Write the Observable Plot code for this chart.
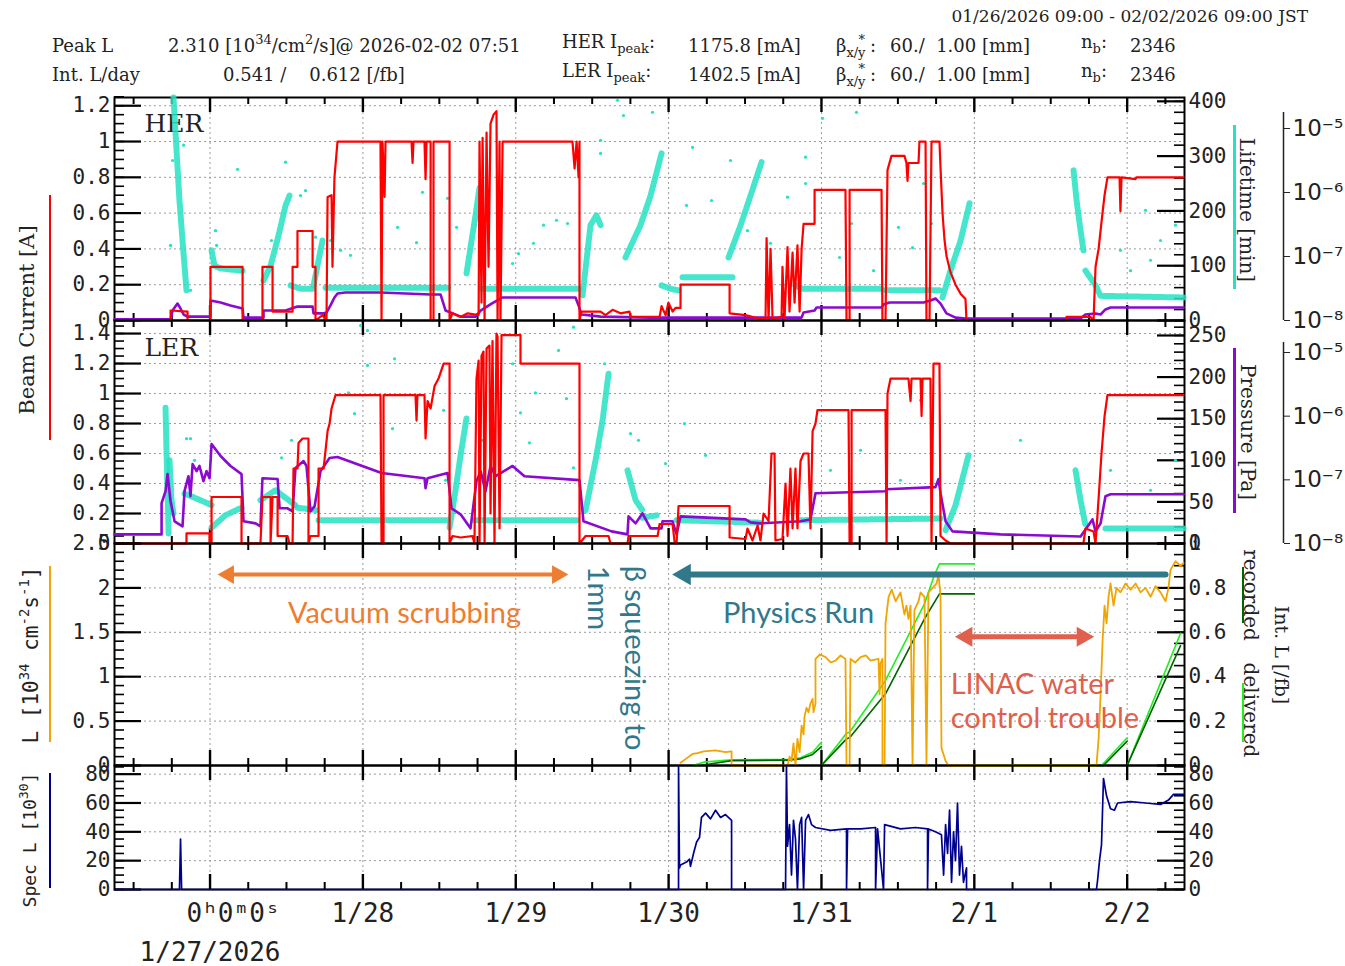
<!DOCTYPE html>
<html><head><meta charset="utf-8">
<script src="https://cdn.jsdelivr.net/npm/d3@7"></script>
<script src="https://cdn.jsdelivr.net/npm/@observablehq/plot@0.6"></script>
<style>
body{margin:0;background:#fff;}
#chart{position:relative;width:1345px;height:966px;overflow:hidden;background:#fff;}
#chart svg{position:absolute;left:0;top:0;background:transparent !important;}
.hd{position:absolute;white-space:pre;font-family:"DejaVu Serif",serif;font-size:18px;color:#222;line-height:18px;}
.sb{font-size:13px;position:relative;top:5px;}
.sp{font-size:13px;position:relative;top:-8px;}
.rot{position:absolute;white-space:pre;color:#222;line-height:1;}
.bar{position:absolute;}
</style></head><body><div id="chart"></div>
<script>
// ---------------- DATA (time = days since 1/27/2026 00:00 JST) ----------------
const dayTicks = [0, 1, 2, 3, 4, 5, 6];
const dayLabels = ["\u00a0\u00a0\u00a00ʰ0ᵐ0ˢ\n1/27/2026", "1/28", "1/29", "1/30", "1/31", "2/1", "2/2"];
const minorDays = [-0.5,-0.25,0.25,0.5,0.75,1.25,1.5,1.75,2.25,2.5,2.75,3.25,3.5,3.75,4.25,4.5,4.75,5.25,5.5,5.75,6.25];
const herTicks = [0, 0.2, 0.4, 0.6, 0.8, 1, 1.2];
const lerTicks = [0, 0.2, 0.4, 0.6, 0.8, 1, 1.2, 1.4];
const lumTicks = [0, 0.5, 1, 1.5, 2, 2.5];
const specTicks = [0, 20, 40, 60, 80];
const herLifeTicks = [0, 100, 200, 300, 400];
const lerLifeTicks = [0, 50, 100, 150, 200, 250];
const intLTicks = [0, 0.2, 0.4, 0.6, 0.8, 1];
const pressureTicks = [1e-8, 1e-7, 1e-6, 1e-5];

// HER beam current [A]
const herCurrent = [[-0.625,0],[-0.258,0],[-0.258,0.056],[-0.147,0.05],[-0.147,0],[0.003,0],[0.003,0.30],[0.213,0.30],[0.213,0],[0.343,0],[0.343,0.30],[0.409,0.30],[0.409,0.05],[0.540,0.05],[0.540,0.30],[0.572,0.30],[0.572,0.50],[0.671,0.50],[0.671,0.30],[0.690,0.30],[0.690,0],[0.736,0.03],[0.762,0],[0.769,0.69],[0.795,0.70],[0.801,0.3],[0.814,0.8],[0.834,1.0],[1.115,1.0],[1.122,0],[1.128,1.0],[1.142,0.69],[1.148,1.0],[1.318,1.0],[1.325,0.88],[1.331,1.0],[1.403,1.0],[1.410,0.79],[1.416,1.0],[1.443,1.0],[1.443,0],[1.462,0],[1.462,1.0],[1.567,1.0],[1.567,0],[1.586,0.04],[1.639,0.02],[1.685,0.04],[1.757,0.03],[1.763,1.0],[1.776,0.1],[1.783,1.02],[1.796,0],[1.809,1.05],[1.822,0.3],[1.835,1.1],[1.855,1.15],[1.874,1.17],[1.881,0],[1.894,1.0],[1.900,0],[1.914,1.0],[2.371,1.0],[2.385,0.85],[2.398,1.0],[2.411,0.8],[2.417,1.0],[2.417,0],[2.430,0.05],[2.555,0.05],[2.587,0.03],[2.633,0.06],[2.686,0.04],[2.744,0.05],[2.751,0.02],[2.941,0.02],[2.954,0.08],[2.980,0.03],[2.999,0.1],[3.026,0.05],[3.045,0.07],[3.078,0.07],[3.078,0.2],[3.399,0.2],[3.399,0.04],[3.503,0.03],[3.595,0.01],[3.634,0.01],[3.641,0.46],[3.654,0],[3.667,0.4],[3.680,0.01],[3.739,0.02],[3.745,0.3],[3.758,0],[3.778,0.41],[3.791,0.05],[3.811,0.38],[3.824,0.1],[3.843,0.42],[3.857,0.05],[3.870,0.4],[3.883,0.54],[3.955,0.54],[3.955,0.73],[4.157,0.73],[4.164,0],[4.184,0],[4.184,0.73],[4.393,0.73],[4.399,0],[4.419,0],[4.432,0.84],[4.458,0.92],[4.543,0.92],[4.556,0.88],[4.563,0.78],[4.569,0.88],[4.635,0.88],[4.641,1.0],[4.681,1.0],[4.687,0],[4.707,0],[4.720,1.0],[4.772,1.0],[4.779,0.85],[4.792,0.6],[4.805,0.45],[4.818,0.36],[4.844,0.27],[4.877,0.2],[4.910,0.15],[4.942,0.12],[4.949,0],[5.597,0],[5.603,0.02],[5.760,0.02],[5.780,0],[5.793,0.3],[5.813,0.4],[5.832,0.55],[5.852,0.7],[5.871,0.8],[5.950,0.8],[5.956,0.61],[5.963,0.8],[6.055,0.79],[6.061,0.8],[6.369,0.8]];

// LER beam current [A]
const lerCurrent = [[-0.625,0],[-0.154,0],[-0.154,0.067],[-0.003,0.067],[-0.003,0],[0.010,0],[0.010,0.31],[0.206,0.31],[0.206,0],[0.330,0],[0.343,0.31],[0.396,0.31],[0.396,0],[0.409,0.31],[0.442,0.31],[0.442,0.05],[0.507,0.05],[0.520,0],[0.540,0],[0.546,0.5],[0.572,0.5],[0.579,0.67],[0.605,0.70],[0.644,0.70],[0.644,0],[0.657,0.05],[0.710,0.05],[0.710,0.5],[0.743,0.5],[0.769,0.75],[0.782,0.8],[0.795,0.9],[0.821,0.99],[1.115,0.99],[1.122,0],[1.135,0],[1.135,0.99],[1.344,0.99],[1.351,0.82],[1.357,0.99],[1.403,0.99],[1.410,0.70],[1.423,0.95],[1.443,0.9],[1.469,1.05],[1.495,1.1],[1.528,1.2],[1.567,1.2],[1.567,0],[1.586,0.05],[1.639,0.04],[1.717,0.05],[1.730,0],[1.743,1.1],[1.757,1.22],[1.763,0],[1.776,1.25],[1.789,1.28],[1.796,0],[1.809,1.3],[1.828,1.32],[1.835,0.2],[1.848,1.35],[1.861,0],[1.874,1.4],[1.881,1.38],[1.894,0.1],[1.907,1.39],[2.031,1.39],[2.031,1.2],[2.417,1.2],[2.417,0],[2.457,0.05],[2.607,0.05],[2.620,0],[2.731,0],[2.738,0.05],[2.928,0.05],[2.941,0.13],[3.026,0.13],[3.039,0.01],[3.052,0],[3.065,0.25],[3.399,0.25],[3.399,0.04],[3.503,0.03],[3.516,0.1],[3.549,0.02],[3.582,0.12],[3.601,0.02],[3.621,0.2],[3.654,0.15],[3.673,0.6],[3.693,0.6],[3.699,0.02],[3.745,0.03],[3.765,0.4],[3.778,0.05],[3.797,0.5],[3.811,0.1],[3.830,0.5],[3.843,0.1],[3.863,0.55],[3.883,0.6],[3.915,0.6],[3.928,0.1],[3.942,0.75],[3.961,0.8],[3.974,0.89],[4.177,0.89],[4.184,0],[4.197,0],[4.197,0.89],[4.419,0.89],[4.426,0],[4.432,1.0],[4.452,1.1],[4.569,1.1],[4.583,0.95],[4.589,1.1],[4.648,1.1],[4.655,0.85],[4.661,1.1],[4.713,1.1],[4.720,0],[4.733,1.2],[4.772,1.2],[4.779,0.05],[4.812,0.02],[4.844,0],[5.714,0],[5.727,0.1],[5.780,0.08],[5.793,0],[5.813,0.3],[5.832,0.6],[5.852,0.85],[5.871,0.99],[6.369,0.99]];

// HER pressure [Pa]
const herPressure = [[-0.625,1.04e-8],[-0.258,1.04e-8],[-0.245,1.43e-8],[-0.213,1.84e-8],[-0.193,1.54e-8],[-0.173,1.24e-8],[-0.147,1.15e-8],[0.003,1.15e-8],[0.003,2.05e-8],[0.069,1.91e-8],[0.134,1.72e-8],[0.213,1.54e-8],[0.219,1.11e-8],[0.350,1.11e-8],[0.350,1.43e-8],[0.494,1.43e-8],[0.572,1.65e-8],[0.671,1.65e-8],[0.677,1.29e-8],[0.736,1.29e-8],[0.762,1.33e-8],[0.788,1.72e-8],[0.814,2.29e-8],[0.834,2.64e-8],[0.886,2.74e-8],[1.115,2.74e-8],[1.443,2.55e-8],[1.462,2.55e-8],[1.508,2.55e-8],[1.541,1.43e-8],[1.639,1.15e-8],[1.737,1.15e-8],[1.770,1.43e-8],[1.842,1.84e-8],[1.914,2.29e-8],[2.391,2.29e-8],[2.411,1.72e-8],[2.430,1.24e-8],[2.555,1.15e-8],[2.882,1.11e-8],[3.870,1.11e-8],[3.883,1.33e-8],[3.955,1.43e-8],[3.968,1.60e-8],[4.393,1.60e-8],[4.406,1.78e-8],[4.445,1.91e-8],[4.668,1.91e-8],[4.713,2.05e-8],[4.746,2.21e-8],[4.779,1.84e-8],[4.818,1.29e-8],[4.877,1.11e-8],[4.942,1.07e-8],[5.695,1.07e-8],[5.727,1.24e-8],[5.793,1.29e-8],[5.826,1.24e-8],[5.858,1.49e-8],[5.891,1.60e-8],[6.369,1.60e-8]];

// LER pressure [Pa]
const lerPressure = [[-0.625,1.39e-8],[-0.317,1.39e-8],[-0.317,4.29e-8],[-0.291,6.63e-8],[-0.278,1.23e-7],[-0.258,4.61e-8],[-0.232,2.23e-8],[-0.180,1.86e-8],[-0.167,6.63e-8],[-0.141,1.14e-7],[-0.128,5.53e-8],[-0.114,1.77e-7],[-0.088,1.37e-7],[-0.069,1.65e-7],[-0.043,9.53e-8],[-0.023,1.37e-7],[-0.003,1.06e-7],[0.010,3.66e-7],[0.069,2.37e-7],[0.134,1.65e-7],[0.206,1.23e-7],[0.219,2.23e-8],[0.298,2.07e-8],[0.330,1.86e-8],[0.343,1.06e-7],[0.442,1.03e-7],[0.455,3.57e-8],[0.507,3.57e-8],[0.540,3.20e-8],[0.559,1.53e-7],[0.612,1.97e-7],[0.631,1.65e-7],[0.657,3.20e-8],[0.684,3.84e-8],[0.723,1.37e-7],[0.782,2.20e-7],[0.834,2.28e-7],[1.122,1.28e-7],[1.403,1.06e-7],[1.410,7.39e-8],[1.423,1.06e-7],[1.554,1.28e-7],[1.580,3.57e-8],[1.639,2.87e-8],[1.704,1.73e-8],[1.743,9.53e-8],[1.770,1.37e-7],[1.802,6.63e-8],[1.835,1.65e-7],[1.868,1.14e-7],[1.979,1.65e-7],[2.057,1.14e-7],[2.417,9.89e-8],[2.443,2.23e-8],[2.627,1.55e-8],[2.731,1.39e-8],[2.738,2.67e-8],[2.784,2.07e-8],[2.829,2.98e-8],[2.882,1.73e-8],[2.954,1.73e-8],[2.960,2.23e-8],[3.026,2.23e-8],[3.052,1.39e-8],[3.078,2.67e-8],[3.503,2.39e-8],[3.536,2.15e-8],[3.601,2.07e-8],[3.863,2.23e-8],[3.928,2.39e-8],[3.961,6.17e-8],[4.419,6.63e-8],[4.426,7.13e-8],[4.746,7.67e-8],[4.766,1.03e-7],[4.779,6.17e-8],[4.812,2.23e-8],[4.857,1.55e-8],[5.171,1.39e-8],[5.695,1.29e-8],[5.727,1.66e-8],[5.773,2.39e-8],[5.793,1.55e-8],[5.826,2.07e-8],[5.858,5.53e-8],[5.891,5.94e-8],[6.369,5.94e-8]];

// HER lifetime [min]: dense streaks [t, min, streak id] and isolated points [t, min]
const herLifeStreaks = [[-0.239,407,1],[-0.219,310,1],[-0.200,219,1],[-0.180,146,1],[-0.167,100,1],[-0.154,55,1],[0.010,128,2],[0.029,100,2],[0.069,95,2],[0.213,91,2],[0.350,73,3],[0.396,100,3],[0.448,155,3],[0.494,210,3],[0.520,228,3],[0.527,64,4],[0.592,58,4],[0.671,58,4],[0.677,64,5],[0.710,110,5],[0.736,146,5],[0.756,60,6],[0.886,60,6],[1.115,60,6],[1.567,60,6],[1.678,86,7],[1.711,146,7],[1.737,192,7],[1.763,243,7],[1.776,58,8],[2.417,58,8],[2.437,46,9],[2.463,110,9],[2.489,174,9],[2.528,192,9],[2.555,174,9],[2.718,115,10],[2.816,174,10],[2.882,228,10],[2.954,305,10],[2.954,64,11],[3.013,58,11],[3.065,55,11],[3.091,79,12],[3.418,79,12],[3.392,115,13],[3.471,174,13],[3.536,228,13],[3.608,289,13],[3.830,64,14],[3.870,58,14],[4.393,58,14],[4.419,55,15],[4.772,55,15],[4.792,42,16],[4.844,91,16],[4.910,146,16],[4.969,214,16],[5.649,274,17],[5.669,219,17],[5.695,164,17],[5.714,128,17],[5.727,91,18],[5.793,64,18],[5.826,45,18],[6.369,42,18]];
const herLifePoints = [[-0.245,292],[-0.258,137],[-0.173,320],[-0.128,55],[0.036,164],[0.043,137],[0.180,276],[0.402,146],[0.494,289],[0.592,228],[0.625,237],[0.690,152],[0.788,146],[0.854,128],[0.919,119],[1.227,170],[1.351,142],[1.390,234],[1.554,223],[1.613,170],[1.979,104],[2.018,122],[2.116,141],[2.182,174],[2.267,183],[2.339,177],[2.555,329],[2.555,305],[2.666,402],[2.705,374],[2.895,380],[3.157,316],[3.117,210],[3.281,219],[3.405,292],[3.896,298],[4.007,369],[4.229,380],[3.896,250],[3.778,225],[4.197,177],[4.504,170],[4.668,250],[4.720,177],[3.667,141],[3.516,164],[4.118,115],[4.341,91],[4.596,133],[6.120,201],[6.218,146],[6.316,174],[5.956,128],[6.153,110],[6.022,91]];

// LER lifetime [min]
const lerLifeStreaks = [[-0.291,163,1],[-0.285,112,1],[-0.278,64,1],[-0.271,12,1],[-0.265,100,2],[-0.252,52,2],[-0.239,36,2],[-0.167,60,3],[-0.062,52,3],[0.010,46,3],[0.010,19,4],[0.101,34,4],[0.206,43,4],[0.330,52,5],[0.428,64,5],[0.559,46,5],[0.572,43,6],[0.697,40,6],[0.710,28,7],[1.554,28,7],[1.567,19,8],[1.606,64,8],[1.639,106,8],[1.678,151,8],[1.730,28,9],[2.404,28,9],[2.457,40,10],[2.522,100,10],[2.568,148,10],[2.607,204,10],[2.731,88,11],[2.784,52,11],[2.829,40,11],[2.829,31,12],[2.928,34,12],[3.052,28,13],[3.601,25,13],[3.863,28,14],[4.779,30,14],[4.812,16,15],[4.877,46,15],[4.962,106,15],[5.662,88,16],[5.695,52,16],[5.727,22,16],[5.858,18,17],[6.369,18,17]];
const lerLifePoints = [[-0.154,126],[-0.128,126],[-0.101,100],[0.468,103],[0.533,124],[0.906,181],[0.945,156],[1.030,214],[1.207,222],[1.194,138],[1.528,160],[1.541,76],[1.783,124],[1.979,216],[2.031,157],[2.090,121],[2.129,181],[2.280,232],[2.332,174],[2.378,260],[2.378,91],[2.581,216],[2.751,132],[2.803,124],[2.980,96],[3.104,144],[0.985,262],[1.030,256],[3.242,106],[4.059,88],[4.256,112],[4.517,76],[4.648,172],[5.302,124],[5.891,88],[6.153,64],[6.316,100]];

// Luminosity [1e34 cm^-2 s^-1]
const luminosity = [[3.078,0.03],[3.117,0.08],[3.157,0.13],[3.189,0.14],[3.229,0.16],[3.307,0.17],[3.372,0.15],[3.412,0.16],[3.412,0],[3.778,0],[3.791,0.1],[3.804,0.05],[3.817,0.25],[3.830,0],[3.843,0.3],[3.857,0.15],[3.870,0.45],[3.883,0.35],[3.889,0.55],[3.902,0.65],[3.915,0.6],[3.928,0.7],[3.942,0.75],[3.948,0.6],[3.961,0.7],[3.961,1.2],[3.990,1.25],[4.027,1.22],[4.060,1.16],[4.092,1.18],[4.125,1.24],[4.157,1.2],[4.164,0],[4.184,0],[4.190,1.2],[4.220,1.16],[4.256,1.22],[4.290,1.24],[4.321,1.18],[4.373,1.2],[4.380,0.8],[4.386,1.15],[4.399,1.2],[4.399,0],[4.413,0],[4.419,1.6],[4.439,1.9],[4.460,1.98],[4.485,1.85],[4.517,1.95],[4.543,1.7],[4.556,1.8],[4.569,1.65],[4.583,1.8],[4.596,0],[4.608,1.75],[4.635,1.85],[4.648,1.95],[4.674,1.9],[4.687,0],[4.700,1.95],[4.727,2.0],[4.753,2.05],[4.766,2.15],[4.779,1.9],[4.785,0.2],[4.812,0.05],[4.831,0],[5.799,0],[5.813,0.3],[5.826,0.8],[5.839,1.4],[5.852,1.8],[5.865,1.6],[5.878,1.9],[5.891,2.05],[5.911,1.8],[5.930,2.0],[5.956,1.95],[5.989,2.05],[6.022,1.98],[6.055,2.05],[6.087,1.95],[6.120,2.0],[6.153,1.9],[6.185,2.02],[6.218,1.95],[6.251,1.85],[6.270,2.0],[6.283,2.2],[6.316,2.3],[6.349,2.25],[6.369,2.28]];

// Integrated luminosity per day [/fb]: [t, value, day]
const deliveredIntL = [[3.157,0,1],[3.229,0.015,1],[3.412,0.026,1],[3.778,0.027,1],[3.863,0.035,1],[3.942,0.06,1],[4.0,0.105,1],[4.0,0,2],[4.164,0.145,2],[4.184,0.15,2],[4.419,0.383,2],[4.674,0.728,2],[4.740,0.86,2],[4.772,0.908,2],[5.0,0.908,2],[5.0,0,3],[5.832,0,3],[6.0,0.125,3],[6.0,0,4],[6.349,0.595,4]];
const recordedIntL = [[3.209,0,1],[3.412,0.022,1],[3.778,0.024,1],[3.863,0.03,1],[3.942,0.05,1],[4.0,0.085,1],[4.0,0,2],[4.164,0.12,2],[4.184,0.125,2],[4.419,0.323,2],[4.674,0.661,2],[4.772,0.773,2],[5.0,0.773,2],[5.0,0,3],[5.845,0,3],[6.0,0.11,3],[6.0,0,4],[6.349,0.54,4]];

// Specific luminosity [1e30]
const specLum = [[-0.625,0],[-0.200,0],[-0.193,35],[-0.186,0],[3.065,0],[3.065,85.7],[3.071,15],[3.078,17],[3.117,19],[3.137,21],[3.143,16],[3.163,25],[3.183,33],[3.202,36],[3.215,50],[3.242,53],[3.274,49],[3.307,55],[3.340,50],[3.372,52],[3.412,48],[3.412,0],[3.765,0],[3.771,85.7],[3.778,30],[3.791,45],[3.804,10],[3.817,48],[3.830,35],[3.843,0],[3.857,45],[3.870,50],[3.883,0],[3.896,48],[3.915,52],[3.935,45],[3.961,43],[4.059,41],[4.164,42],[4.164,0],[4.171,42],[4.256,42],[4.354,43],[4.354,0],[4.367,42],[4.406,0],[4.413,45],[4.517,42],[4.615,43],[4.694,42],[4.694,0],[4.700,42],[4.746,40],[4.785,38],[4.799,10],[4.812,45],[4.825,25],[4.838,55],[4.851,5],[4.864,40],[4.877,20],[4.890,60],[4.903,10],[4.916,30],[4.929,5],[4.949,15],[4.949,0],[5.799,0],[5.806,6],[5.819,20],[5.832,31],[5.845,77],[5.865,65],[5.891,56],[5.917,55],[5.937,60],[6.022,61],[6.120,60],[6.218,59],[6.270,62],[6.303,66],[6.369,66]];

// Annotations (time span, luminosity level)
const scrubbingSpan = [{t1: 0.049, t2: 2.345, lum: 2.15}];
const physicsSpan = [{t1: 3.026, t2: 6.251, lum: 2.15}];
const linacSpan = [{t1: 4.877, t2: 5.780, lum: 1.45}];
const annotationLabels = [
  {t: 1.272, lum: 1.71, label: "Vacuum scrubbing", kind: "scrub"},
  {t: 3.850, lum: 1.71, label: "Physics Run", kind: "physics"},
  {t: 4.845, lum: 0.91, label: "LINAC water", kind: "linac"},
  {t: 4.845, lum: 0.53, label: "control trouble", kind: "linac"}
];
const betaLabel = [{t: 2.673, lum: 2.25, label: "β squeezing to\n1mm"}];

// ---------------- DRAWING ----------------
const W = 1345, H = 966, X0 = 114, X1 = 1184, PW = X1 - X0;
const xDomain = [-0.625, 6.375];
const chart = document.getElementById("chart");
const RED = "#FF0000", PURPLE = "#8A0AD0", CYAN = "#25E2C2", ORANGE = "#F0A500",
      LIME = "#22EE22", DKGREEN = "#006400", NAVY = "#00008F",
      ANN_OR = "#ED7D31", ANN_TEAL = "#31788B", ANN_RED = "#E0604D";
const MONO = "DejaVu Sans Mono";
const P = {her: {top: 97, bottom: 320}, ler: {top: 320, bottom: 543}, lum: {top: 543, bottom: 765}, spec: {top: 765, bottom: 889}};

function layer(p, y, marks) {
  const svg = Plot.plot({
    width: W, height: H,
    marginLeft: X0, marginRight: W - X1, marginTop: p.top, marginBottom: H - p.bottom,
    x: {domain: xDomain, axis: null},
    y: {...y, axis: null},
    style: {background: "transparent", overflow: "visible"},
    marks
  });
  chart.appendChild(svg);
}
const minorOf = (lo, hi, step) => d3.range(lo, hi + step / 2, step).map(v => +v.toFixed(6));
function yTicks(major, minor, side) {
  const key = side === "left" ? "insetRight" : "insetLeft";
  return [
    Plot.tickY(minor, {y: d => d, [key]: PW - 10, stroke: "#000", strokeWidth: 1.6}),
    Plot.tickY(major, {y: d => d, [key]: PW - 27, stroke: "#000", strokeWidth: 2.2})
  ];
}
function xTicks(p) {
  const h = p.bottom - p.top;
  return [
    Plot.tickX(minorDays, {x: d => d, insetTop: h - 7, stroke: "#000", strokeWidth: 2}),
    Plot.tickX(minorDays, {x: d => d, insetBottom: h - 7, stroke: "#000", strokeWidth: 2}),
    Plot.tickX(dayTicks, {x: d => d, insetTop: h - 15, stroke: "#000", strokeWidth: 2.4}),
    Plot.tickX(dayTicks, {x: d => d, insetBottom: h - 15, stroke: "#000", strokeWidth: 2.4})
  ];
}
const grid = (vals) => [
  Plot.ruleX(dayTicks, {x: d => d, stroke: "#9a9a9a", strokeDasharray: "2,3"}),
  Plot.ruleY(vals, {y: d => d, stroke: "#9a9a9a", strokeDasharray: "2,3"})
];
const numFmt = d => String(d);
const leftAxis = (ticks) => Plot.axisY({anchor: "left", ticks, tickSize: 0, tickPadding: 4, fontSize: 21, fontFamily: MONO, fill: "#222", tickFormat: numFmt});
const rightAxis = (ticks) => Plot.axisY({anchor: "right", ticks, tickSize: 0, tickPadding: 4, fontSize: 21, fontFamily: MONO, fill: "#222", tickFormat: numFmt});
const supMap = {"-": "⁻", "0": "⁰", "1": "¹", "2": "²", "3": "³", "4": "⁴", "5": "⁵", "6": "⁶", "7": "⁷", "8": "⁸", "9": "⁹"};
const logFmt = d => "10" + String(Math.round(Math.log10(d))).split("").map(c => supMap[c]).join("");
function logAxis(topValue) {
  return [
    Plot.ruleX([xDomain[1]], {x: d => d, y1: 1e-8, y2: topValue, dx: 99, stroke: "#222", strokeWidth: 1.5}),
    Plot.axisY({anchor: "right", ticks: pressureTicks, tickSize: 6, tickPadding: 3, dx: 99, fontSize: 23, fontFamily: "DejaVu Sans", fill: "#222", tickFormat: logFmt, stroke: "#222"})
  ];
}
const T = d => d[0], V = d => d[1], Z = d => d[2];
// speckled streaks mimic the dense scatter of lifetime points
const streakStyle = {stroke: CYAN, strokeWidth: 6, strokeOpacity: 0.85, strokeDasharray: "2.5,1.5"};

// ---- HER panel ----
const herY = {domain: [0, 1.246]};
layer(P.her, herY, [
  ...grid(herTicks.slice(1)),
  ...xTicks(P.her),
  ...yTicks(herTicks, minorOf(0, 1.25, 0.05), "left"),
  leftAxis(herTicks),
  Plot.frame({stroke: "#000", strokeWidth: 2}),
  Plot.text(["HER"], {text: d => d, frameAnchor: "top-left", dx: 30, dy: 17, textAnchor: "start", lineAnchor: "top", fontSize: 25, fontFamily: "DejaVu Serif", fill: "#222"})
]);
layer(P.her, {domain: [0, 407]}, [
  ...yTicks(herLifeTicks, minorOf(0, 400, 20), "right"),
  rightAxis(herLifeTicks),
  Plot.line(herLifeStreaks, {x: T, y: V, z: Z, ...streakStyle}),
  Plot.dot(herLifePoints, {x: T, y: V, r: 1.6, fill: CYAN})
]);
layer(P.her, {type: "log", domain: [1e-8, 3.05e-5]}, [
  ...logAxis(1.78e-5),
  Plot.line(herPressure, {x: T, y: V, stroke: PURPLE, strokeWidth: 2.6})
]);
layer(P.her, herY, [
  Plot.line(herCurrent, {x: T, y: V, stroke: RED, strokeWidth: 2.2})
]);

// ---- LER panel ----
const lerY = {domain: [0, 1.487]};
layer(P.ler, lerY, [
  ...grid(lerTicks.slice(1)),
  ...xTicks(P.ler),
  ...yTicks(lerTicks, minorOf(0, 1.45, 0.05), "left"),
  leftAxis(lerTicks),
  Plot.frame({stroke: "#000", strokeWidth: 2}),
  Plot.text(["LER"], {text: d => d, frameAnchor: "top-left", dx: 30, dy: 18, textAnchor: "start", lineAnchor: "top", fontSize: 25, fontFamily: "DejaVu Serif", fill: "#222"})
]);
layer(P.ler, {domain: [0, 268]}, [
  ...yTicks(lerLifeTicks, minorOf(0, 260, 10), "right"),
  rightAxis(lerLifeTicks),
  Plot.line(lerLifeStreaks, {x: T, y: V, z: Z, ...streakStyle}),
  Plot.dot(lerLifePoints, {x: T, y: V, r: 1.6, fill: CYAN})
]);
layer(P.ler, {type: "log", domain: [1e-8, 3.18e-5]}, [
  ...logAxis(1.44e-5),
  Plot.line(lerPressure, {x: T, y: V, stroke: PURPLE, strokeWidth: 2.6})
]);
layer(P.ler, lerY, [
  Plot.line(lerCurrent, {x: T, y: V, stroke: RED, strokeWidth: 2.2})
]);

// ---- Luminosity panel ----
const lumY = {domain: [0, 2.5]};
layer(P.lum, lumY, [
  ...grid(lumTicks.slice(1, -1)),
  ...xTicks(P.lum),
  ...yTicks(lumTicks, minorOf(0, 2.5, 0.1), "left"),
  leftAxis(lumTicks),
  Plot.frame({stroke: "#000", strokeWidth: 2})
]);
layer(P.lum, {domain: [0, 1]}, [
  ...yTicks(intLTicks, minorOf(0, 1, 0.05), "right"),
  rightAxis(intLTicks),
  Plot.line(deliveredIntL, {x: T, y: V, z: Z, stroke: LIME, strokeWidth: 1.6}),
  Plot.line(recordedIntL, {x: T, y: V, z: Z, stroke: DKGREEN, strokeWidth: 1.6})
]);
const annFont = {fontSize: 29, fontFamily: "Lato"};
layer(P.lum, lumY, [
  Plot.line(luminosity, {x: T, y: V, stroke: ORANGE, strokeWidth: 1.8}),
  // annotations
  Plot.arrow(scrubbingSpan, {x1: "t1", x2: "t2", y1: "lum", y2: "lum", stroke: ANN_OR, strokeWidth: 4, headLength: 0, insetStart: 14, insetEnd: 14}),
  Plot.dot(scrubbingSpan, {x: "t1", y: "lum", symbol: "triangle", rotate: -90, r: 7, fill: ANN_OR, dx: 11}),
  Plot.dot(scrubbingSpan, {x: "t2", y: "lum", symbol: "triangle", rotate: 90, r: 7, fill: ANN_OR, dx: -11}),
  Plot.arrow(physicsSpan, {x1: "t1", x2: "t2", y1: "lum", y2: "lum", stroke: ANN_TEAL, strokeWidth: 6, headLength: 0, insetStart: 14}),
  Plot.dot(physicsSpan, {x: "t1", y: "lum", symbol: "triangle", rotate: -90, r: 8, fill: ANN_TEAL, dx: 12}),
  Plot.arrow(linacSpan, {x1: "t1", x2: "t2", y1: "lum", y2: "lum", stroke: ANN_RED, strokeWidth: 5, headLength: 0, insetStart: 14, insetEnd: 14}),
  Plot.dot(linacSpan, {x: "t1", y: "lum", symbol: "triangle", rotate: -90, r: 7.5, fill: ANN_RED, dx: 11}),
  Plot.dot(linacSpan, {x: "t2", y: "lum", symbol: "triangle", rotate: 90, r: 7.5, fill: ANN_RED, dx: -11}),
  Plot.text(annotationLabels.filter(d => d.kind === "scrub"), {x: "t", y: "lum", text: "label", fill: ANN_OR, ...annFont}),
  Plot.text(annotationLabels.filter(d => d.kind === "physics"), {x: "t", y: "lum", text: "label", fill: ANN_TEAL, ...annFont}),
  Plot.text(annotationLabels.filter(d => d.kind === "linac"), {x: "t", y: "lum", text: "label", textAnchor: "start", fill: ANN_RED, ...annFont}),
  Plot.text(betaLabel, {x: "t", y: "lum", text: "label", rotate: 90, textAnchor: "start", lineAnchor: "middle", lineHeight: 1.3, fill: ANN_TEAL, ...annFont})
]);

// ---- Specific luminosity panel ----
const specY = {domain: [0, 86]};
layer(P.spec, specY, [
  ...grid(specTicks.slice(1)),
  ...xTicks(P.spec),
  ...yTicks(specTicks, minorOf(0, 85, 5), "left"),
  ...yTicks(specTicks, minorOf(0, 85, 5), "right"),
  leftAxis(specTicks),
  rightAxis(specTicks),
  Plot.axisX({anchor: "bottom", ticks: dayTicks, tickSize: 0, tickPadding: 5, fontSize: 26, fontFamily: MONO, fill: "#222", lineHeight: 1.5, tickFormat: d => dayLabels[dayTicks.indexOf(d)]}),
  Plot.frame({stroke: "#000", strokeWidth: 2}),
  Plot.line(specLum, {x: T, y: V, stroke: NAVY, strokeWidth: 1.7})
]);

// ---------------- HTML text (header, axis titles) ----------------
const html = `
<div class="hd" style="right:37px;top:7px;font-size:17px">01/26/2026 09:00 - 02/02/2026 09:00 JST</div>
<div class="hd" style="left:52px;top:37px">Peak L</div>
<div class="hd" style="left:168px;top:37px">2.310 [10<span class="sp">34</span>/cm<span class="sp">2</span>/s]@ 2026-02-02 07:51</div>
<div class="hd" style="left:52px;top:66px">Int. L/day</div>
<div class="hd" style="left:223px;top:66px">0.541 /    0.612 [/fb]</div>
<div class="hd" style="left:562px;top:33px">HER I<span class="sb">peak</span>:</div>
<div class="hd" style="left:562px;top:62px">LER I<span class="sb">peak</span>:</div>
<div class="hd" style="left:688px;top:37px">1175.8 [mA]</div>
<div class="hd" style="left:688px;top:66px">1402.5 [mA]</div>
<div class="hd" style="left:836px;top:37px">β<span class="sb">x/y</span><span class="sp" style="left:-7px">*</span><span style="position:relative;left:-2px">:</span></div>
<div class="hd" style="left:836px;top:66px">β<span class="sb">x/y</span><span class="sp" style="left:-7px">*</span><span style="position:relative;left:-2px">:</span></div>
<div class="hd" style="left:890px;top:37px">60./  1.00 [mm]</div>
<div class="hd" style="left:890px;top:66px">60./  1.00 [mm]</div>
<div class="hd" style="left:1081px;top:33px">n<span class="sb">b</span>:</div>
<div class="hd" style="left:1081px;top:62px">n<span class="sb">b</span>:</div>
<div class="hd" style="left:1130px;top:37px">2346</div>
<div class="hd" style="left:1130px;top:66px">2346</div>

<div class="rot" style="left:27px;top:320px;transform:translate(-50%,-50%) rotate(-90deg);font-family:'DejaVu Serif';font-size:21px">Beam Current [A]</div>
<div class="bar" style="left:49px;top:195px;width:2px;height:245px;background:${RED}"></div>
<div class="rot" style="left:31px;top:655px;transform:translate(-50%,-50%) rotate(-90deg);font-family:'${MONO}';font-size:21px">L [10<span style="font-size:14px;position:relative;top:-9px">34</span> cm<span style="font-size:14px;position:relative;top:-9px">-2</span>s<span style="font-size:14px;position:relative;top:-9px">-1</span>]</div>
<div class="bar" style="left:49px;top:566px;width:2px;height:176px;background:${ORANGE}"></div>
<div class="rot" style="left:30px;top:840px;transform:translate(-50%,-50%) rotate(-90deg);font-family:'${MONO}';font-size:18px">Spec L [10<span style="font-size:13px;position:relative;top:-8px">30</span>]</div>
<div class="bar" style="left:49px;top:773px;width:2px;height:115px;background:${NAVY}"></div>

<div class="rot" style="left:1247px;top:210px;transform:translate(-50%,-50%) rotate(90deg);font-family:'DejaVu Serif';font-size:20px">Lifetime [min]</div>
<div class="bar" style="left:1233px;top:125px;width:3px;height:164px;background:${CYAN}"></div>
<div class="rot" style="left:1248px;top:432px;transform:translate(-50%,-50%) rotate(90deg);font-family:'DejaVu Serif';font-size:20px">Pressure [Pa]</div>
<div class="bar" style="left:1233px;top:348px;width:3px;height:165px;background:${PURPLE}"></div>
<div class="rot" style="left:1251px;top:595px;transform:translate(-50%,-50%) rotate(90deg);font-family:'DejaVu Serif';font-size:20px">recorded</div>
<div class="bar" style="left:1242px;top:567px;width:2px;height:56px;background:${DKGREEN}"></div>
<div class="rot" style="left:1251px;top:710px;transform:translate(-50%,-50%) rotate(90deg);font-family:'DejaVu Serif';font-size:20px">delivered</div>
<div class="bar" style="left:1242px;top:683px;width:2px;height:59px;background:${LIME}"></div>
<div class="rot" style="left:1281px;top:655px;transform:translate(-50%,-50%) rotate(90deg);font-family:'DejaVu Serif';font-size:19px">Int. L [/fb]</div>
`;
chart.insertAdjacentHTML("beforeend", html);
</script></body></html>
